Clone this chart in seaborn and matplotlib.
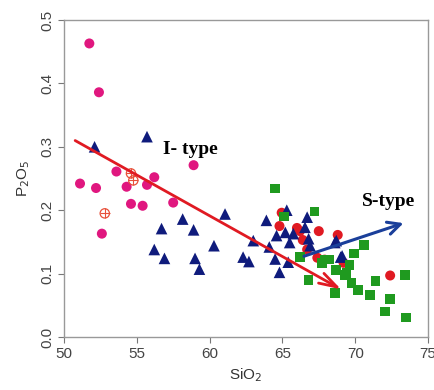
import matplotlib
matplotlib.use("Agg")
import matplotlib.pyplot as plt
import seaborn as sns
import pandas as pd

# ---- data ----
magenta_x = [51.74, 52.4, 53.6, 51.1, 52.2, 54.3, 55.7, 56.2, 58.9, 54.6, 55.4, 57.5, 52.6]
magenta_y = [0.463, 0.386, 0.261, 0.242, 0.235, 0.237, 0.240, 0.252, 0.271, 0.210, 0.207, 0.212, 0.163]

hatched_x = [54.6, 54.76, 52.8]
hatched_y = [0.258, 0.247, 0.195]

tri_x = [52.1, 55.7, 58.15, 56.7, 58.9, 61.06, 56.2, 56.9, 59.0, 59.3, 60.3, 62.3, 62.7,
         63.0, 63.9, 65.3, 66.7, 64.6, 65.2, 65.75, 66.55, 66.8, 65.5, 66.9, 64.1, 64.5,
         64.8, 65.4, 68.7, 69.0, 68.6, 69.1]
tri_y = [0.300, 0.316, 0.186, 0.171, 0.169, 0.194, 0.138, 0.124, 0.124, 0.107, 0.144, 0.126, 0.119,
         0.152, 0.184, 0.200, 0.189, 0.160, 0.165, 0.163, 0.173, 0.155, 0.149, 0.144, 0.142, 0.123,
         0.102, 0.118, 0.152, 0.126, 0.149, 0.128]

red_x = [64.95, 64.8, 66.2, 67.5, 66.4, 66.7, 68.8, 67.9, 67.4, 69.2, 72.4, 66.0]
red_y = [0.196, 0.175, 0.167, 0.167, 0.153, 0.138, 0.161, 0.122, 0.125, 0.117, 0.097, 0.172]

green_x = [64.5, 67.2, 65.1, 70.6, 69.9, 66.2, 67.7, 68.2, 66.8, 68.7, 69.3, 69.75, 71.4, 68.6,
           70.2, 71.0, 72.4, 72.05, 73.4, 73.5, 69.6, 69.4, 67.9]
green_y = [0.234, 0.198, 0.190, 0.145, 0.132, 0.126, 0.117, 0.122, 0.090, 0.106, 0.098, 0.085, 0.088, 0.069,
           0.074, 0.066, 0.060, 0.040, 0.098, 0.031, 0.114, 0.101, 0.122]

i_line_x = [50.6, 69.2]
i_line_y = [0.312, 0.073]
s_line_x = [66.3, 73.5]
s_line_y = [0.126, 0.181]

x_ticks = [50, 55, 60, 65, 70, 75]
y_ticks = [0.0, 0.1, 0.2, 0.3, 0.4, 0.5]

sns.set_style("white")
plt.rcParams['font.family'] = ['Liberation Sans', 'DejaVu Sans']

fig = plt.figure(figsize=(4.34, 3.90), dpi=100)
ax = fig.add_axes([64/434, 1-337/390, (428-64)/434, (337-20)/390])

df_m = pd.DataFrame({"x": magenta_x, "y": magenta_y})
df_h = pd.DataFrame({"x": hatched_x, "y": hatched_y})
df_t = pd.DataFrame({"x": tri_x, "y": tri_y})
df_r = pd.DataFrame({"x": red_x, "y": red_y})
df_g = pd.DataFrame({"x": green_x, "y": green_y})

sns.scatterplot(data=df_m, x="x", y="y", ax=ax, color="#E0177F", marker="o", s=52, edgecolor="none", zorder=3)
sns.scatterplot(data=df_h, x="x", y="y", ax=ax, marker="o", s=45, facecolor="none",
                edgecolor="#E8503A", linewidth=0.9, zorder=3)
sns.scatterplot(data=df_h, x="x", y="y", ax=ax, marker="+", s=45, color="#E8503A", linewidth=0.8, zorder=3)
sns.scatterplot(data=df_r, x="x", y="y", ax=ax, color="#E01A22", marker="o", s=52, edgecolor="none", zorder=3)
sns.scatterplot(data=df_t, x="x", y="y", ax=ax, color="#0F1B7C", marker="^", s=70, edgecolor="none", zorder=4)
sns.scatterplot(data=df_g, x="x", y="y", ax=ax, color="#1F9A1F", marker="s", s=48, edgecolor="none", zorder=5)

ax.annotate("", xy=(i_line_x[1], i_line_y[1]), xytext=(i_line_x[0], i_line_y[0]),
            arrowprops=dict(arrowstyle="->,head_length=1.3,head_width=0.4", color="#E01A22", lw=2),
            zorder=6)
ax.annotate("", xy=(s_line_x[1], s_line_y[1]), xytext=(s_line_x[0], s_line_y[0]),
            arrowprops=dict(arrowstyle="->,head_length=0.9,head_width=0.45", color="#1A3F9A", lw=2.2),
            zorder=6)

ax.text(58.7, 0.295, "I- type", family=["Liberation Serif", "DejaVu Serif"], fontweight="bold",
        fontsize=14, ha="center", va="center", color="black")
ax.text(72.3, 0.214, "S-type", family=["Liberation Serif", "DejaVu Serif"], fontweight="bold",
        fontsize=14, ha="center", va="center", color="black")

ax.set_xlim(50, 75)
ax.set_ylim(0, 0.5)
ax.set_xticks(x_ticks)
ax.set_xticklabels([str(v) for v in x_ticks])
ax.set_yticks(y_ticks)
ax.set_yticklabels([f"{v:.1f}" for v in y_ticks], rotation=90, va="center")
ax.tick_params(axis="both", direction="out", length=4, width=0.8, color="#777777",
               labelsize=11, labelcolor="#444444", bottom=True, left=True, pad=3)
ax.set_xlabel("SiO$_2$", fontsize=11, color="#333333", labelpad=4)
ax.set_ylabel("P$_2$O$_5$", fontsize=11, color="#333333", labelpad=6)
for sp in ax.spines.values():
    sp.set_color("#999999")
    sp.set_linewidth(1.0)
    sp.set_visible(True)

fig.savefig("out.png", dpi=100, facecolor="white")
